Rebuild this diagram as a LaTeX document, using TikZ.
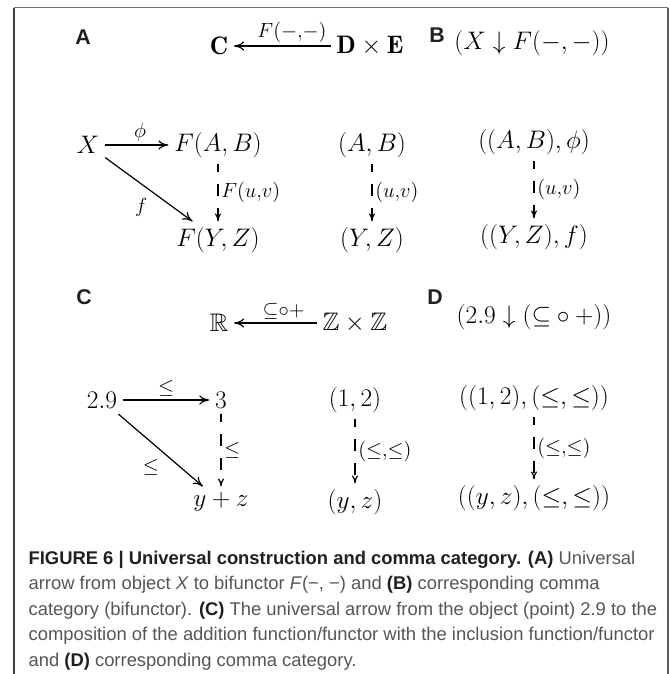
\RequirePackage{fix-cm}
\documentclass[tikz,border=0pt]{standalone}
\usepackage{amsmath,amssymb}
\usepackage{fontspec}
\usetikzlibrary{arrows.meta}
\newfontfamily\capfont{Liberation Sans}
\definecolor{captxt}{RGB}{85,85,85}
\definecolor{capbold}{RGB}{35,31,32}
\newcommand{\capb}[1]{{\color{capbold}\bfseries #1}}
\begin{document}
\begin{tikzpicture}[x=0.75pt, y=-0.75pt, >={To[length=7.5pt,width=7pt]}, line width=0.9pt,
  obj/.style={font=\fontsize{19}{23}\selectfont, inner sep=4pt},
  lbl/.style={font=\fontsize{22}{26}\selectfont, inner sep=2pt},
  panel/.style={font=\capfont\bfseries\fontsize{16}{19}\selectfont, text=capbold},
  capline/.style={anchor=base west, inner sep=0pt, text=captxt, font=\capfont\fontsize{13.8}{16}\selectfont},
  dasharr/.style={-{To[length=6pt,width=4.5pt]}, dash pattern=on 9pt off 9pt, dash phase=3pt}]
  \useasboundingbox (0,0) rectangle (669,674);

  % 1. 外框
  \draw[black!55, line width=0.75pt] (14,8) -- (668,8);
  \draw[black!75, line width=1.2pt] (14,8) -- (14,674);
  \draw[black!65, line width=1.2pt] (668,8) -- (668,674);

  % 2. 分图标号
  \node[panel] (pA) at (83,37) {A};
  \node[panel] (pB) at (437,35) {B};
  \node[panel] (pC) at (84,297) {C};
  \node[panel] (pD) at (435,297) {D};

  % 3. (A) 与 (B): 双函子与逗号范畴
  \node[obj] (catC) at (219,46) {$\mathbf{C}$};
  \node[obj] (catDE) at (370,46) {$\mathbf{D}\times\mathbf{E}$};
  \draw[->] (catDE) -- (catC) node[pos=0.4, above, lbl] {$\scriptstyle F(-,-)$};
  \node[obj] (commaA) at (532,43) {$(X\downarrow F(-,-))$};

  \node[obj] (X) at (88,145) {$X$};
  \node[obj] (FAB) at (218,145) {$F(A,B)$};
  \node[obj] (FYZ) at (218,240) {$F(Y,Z)$};
  \draw[->] (X) -- (FAB) node[pos=0.55, above, lbl] {$\scriptstyle\phi$};
  \draw[->] (X) -- (FYZ) node[pos=0.55, below left=2pt, lbl] {$\scriptstyle f$};
  \draw[dasharr] (FAB) -- (FYZ) node[midway, right, lbl] {$\scriptstyle F(u,v)$};

  \node[obj] (AB) at (372,145) {$(A,B)$};
  \node[obj] (YZ) at (372,240) {$(Y,Z)$};
  \draw[dasharr] (AB) -- (YZ) node[midway, right, lbl] {$\scriptstyle (u,v)$};

  \node[obj] (ABphi) at (534,142) {$((A,B),\phi)$};
  \node[obj] (YZf) at (534,237) {$((Y,Z),f)$};
  \draw[dasharr] (ABphi) -- (YZf) node[midway, right, lbl] {$\scriptstyle (u,v)$};

  % 4. (C) 与 (D): 实数例子
  \node[obj] (R) at (219,323) {$\mathbb{R}$};
  \node[obj] (ZZ) at (355,323) {$\mathbb{Z}\times\mathbb{Z}$};
  \draw[->] (ZZ) -- (R) node[pos=0.4, above, lbl] {$\scriptstyle\subseteq\circ+$};
  \node[obj] (commaC) at (534,317) {$(2.9\downarrow(\mathord{\subseteq}\circ\mathord{+}))$};

  \node[obj] (p29) at (102,400) {$2.9$};
  \node[obj] (p3) at (221,400) {$3$};
  \node[obj] (pyz) at (221,502) {$y+z$};
  \draw[->] (p29) -- (p3) node[midway, above, lbl] {$\scriptstyle\leq$};
  \draw[->] (p29) -- (pyz) node[pos=0.55, below left=2pt, lbl] {$\scriptstyle\leq$};
  \draw[dasharr] (p3) -- (pyz) node[midway, right, lbl] {$\scriptstyle\leq$};

  \node[obj] (p12) at (355,400) {$(1,2)$};
  \node[obj] (pyz2) at (355,502) {$(y,z)$};
  \draw[dasharr] (p12) -- (pyz2) node[midway, right, lbl] {$\scriptstyle(\leq,\leq)$};

  \node[obj] (p12le) at (534,398) {$((1,2),(\leq,\leq))$};
  \node[obj] (pyzle) at (534,498) {$((y,z),(\leq,\leq))$};
  \draw[dasharr] (p12le) -- (pyzle) node[midway, right, lbl] {$\scriptstyle(\leq,\leq)$};

  % 5. 图注 (逐行)
  \node[capline] (cap1) at (28,564) {\capb{FIGURE 6 | Universal construction and comma category. (A)} Universal};
  \node[capline] (cap2) at (28,589.5) {arrow from object \textit{X} to bifunctor \textit{F}(−, −) and \capb{(B)} corresponding comma};
  \node[capline] (cap3) at (28,615) {category (bifunctor). \capb{(C)} The universal arrow from the object (point) 2.9 to the};
  \node[capline] (cap4) at (28,640.5) {composition of the addition function/functor with the inclusion function/functor};
  \node[capline] (cap5) at (28,666) {and \capb{(D)} corresponding comma category.};
\end{tikzpicture}
\end{document}
